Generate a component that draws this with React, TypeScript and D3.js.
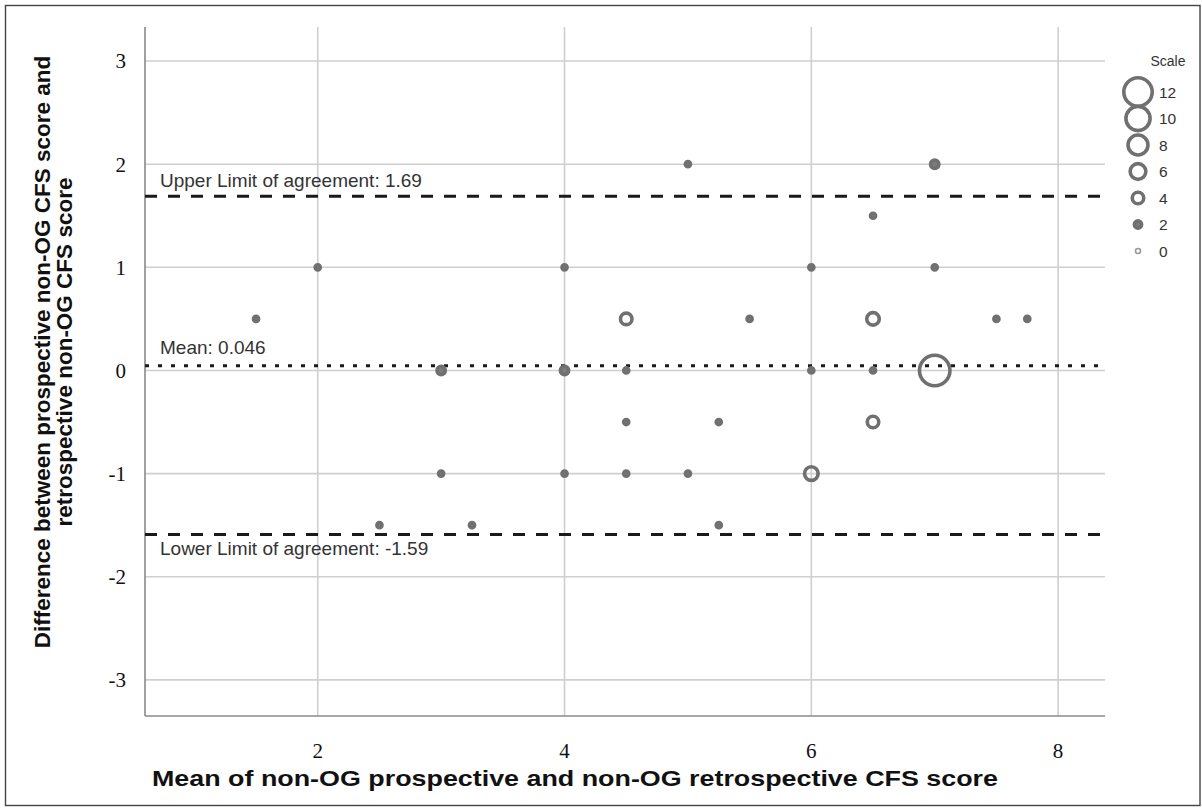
import React from "react";
import * as d3 from "d3";

const xTicks = [2, 4, 6, 8];
const yTicks = [-3, -2, -1, 0, 1, 2, 3];

// Points: mean (x), difference (y), count (bubble size)
const pointX = [1.5, 2, 2.5, 3, 3, 3.25, 4, 4, 4, 4.5, 4.5, 4.5, 4.5, 5, 5, 5.25, 5.25, 5.5, 6, 6, 6, 6.5, 6.5, 6.5, 6.5, 7, 7, 7, 7.5, 7.75];
const pointY = [0.5, 1, -1.5, 0, -1, -1.5, 1, 0, -1, 0.5, 0, -0.5, -1, 2, -1, -0.5, -1.5, 0.5, 1, 0, -1, 1.5, 0.5, 0, -0.5, 2, 1, 0, 0.5, 0.5];
const pointN = [1, 1, 1, 2.5, 1, 1, 1, 2.5, 1, 4, 1, 1, 1, 1, 1, 1, 1, 1, 1, 1, 5, 1, 4.5, 1, 4, 2.5, 1, 13, 1, 1];

const refValues = [1.69, 0.046, -1.59];
const refLabels = ["Upper Limit of agreement: 1.69", "Mean: 0.046", "Lower Limit of agreement: -1.59"];
const refDash = ["12,11", "4,9", "12,11"];

const legendCounts = [12, 10, 8, 6, 4, 2, 0];

const W = 1202;
const H = 811;
const L = 145, R = 1105, T = 27, B = 716;

export default function App() {
  const x = d3.scaleLinear().domain([0.6, 8.38]).range([L, R]);
  const y = d3.scaleLinear().domain([-3.35, 3.33]).range([B, T]);
  const rScale = d3.scaleLinear().domain([0, 12]).range([3.3, 16]);
  const SW = 3.6;
  const ptColor = "#707070";
  const legendY = d3.scaleLinear().domain([0, legendCounts.length - 1]).range([92, 251]);
  const sans = "'Liberation Sans', Arial, sans-serif";

  const pts = pointX.map((px, i) => ({ x: px, y: pointY[i], n: pointN[i] }));
  const labelOffset = [-9, -12, 21];

  return (
    <svg width={W} height={H} style={{ position: "absolute", left: 0, top: 0, background: "#fff" }}>
      <rect x={0} y={0} width={W} height={H} fill="#fff" />
      <rect x={5.5} y={5.5} width={1194.5} height={800} fill="none" stroke="#444" strokeWidth={1.4} />

      {/* grid */}
      {xTicks.map((t) => (
        <line key={"gx" + t} x1={x(t)} x2={x(t)} y1={T} y2={B} stroke="#cfcfcf" strokeWidth={1.6} />
      ))}
      {yTicks.map((t) => (
        <line key={"gy" + t} x1={L} x2={R} y1={y(t)} y2={y(t)} stroke="#cfcfcf" strokeWidth={1.6} />
      ))}

      {/* axes */}
      <line x1={L} x2={L} y1={T} y2={B} stroke="#8a8a8a" strokeWidth={1.6} />
      <line x1={L} x2={R} y1={B} y2={B} stroke="#8a8a8a" strokeWidth={1.6} />

      {/* tick labels */}
      {yTicks.map((t) => (
        <text key={"ty" + t} x={126} y={y(t)} dy="0.35em" textAnchor="end" fontFamily="'Liberation Serif', serif" fontSize={21} fill="#111">
          {t}
        </text>
      ))}
      {xTicks.map((t) => (
        <text key={"tx" + t} x={x(t)} y={758} textAnchor="middle" fontFamily="'Liberation Serif', serif" fontSize={21} fill="#111">
          {t}
        </text>
      ))}

      {/* reference lines */}
      {refValues.map((v, i) => (
        <g key={"ref" + i}>
          <line x1={L} x2={R} y1={y(v)} y2={y(v)} stroke="#1a1a1a" strokeWidth={3} strokeDasharray={refDash[i]} />
          <text x={160} y={y(v) + labelOffset[i]} fontFamily={sans} fontSize={19} fill="#333">
            {refLabels[i]}
          </text>
        </g>
      ))}

      {/* points */}
      {pts.map((p, i) => (
        <circle key={"p" + i} cx={x(p.x)} cy={y(p.y)} r={Math.max(rScale(p.n) - SW / 2, 0.8)} fill={p.n <= 3 ? "#7c7c7c" : "none"} stroke={ptColor} strokeWidth={SW} />
      ))}

      {/* axis titles */}
      <text x={575} y={786} textAnchor="middle" textLength={846} lengthAdjust="spacingAndGlyphs" fontFamily={sans} fontWeight="bold" fontSize={22} fill="#111">
        Mean of non-OG prospective and non-OG retrospective CFS score
      </text>
      <g transform="translate(0,352) rotate(-90)">
        <text x={0} y={50} textAnchor="middle" fontFamily={sans} fontWeight="bold" fontSize={22.5} fill="#111">
          Difference between prospective non-OG CFS score and
        </text>
        <text x={0} y={72} textAnchor="middle" fontFamily={sans} fontWeight="bold" fontSize={22.5} fill="#111">
          retrospective non-OG CFS score
        </text>
      </g>

      {/* legend */}
      <text x={1168} y={66} textAnchor="middle" fontFamily={sans} fontSize={14} fill="#333">
        Scale
      </text>
      {legendCounts.map((c, i) => (
        <g key={"lg" + c}>
          <circle cx={1138} cy={legendY(i)} r={Math.max(rScale(c) - (c === 0 ? 0.8 : SW / 2), 0.8)} fill={c === 2 ? "#7c7c7c" : "none"} stroke={c === 0 ? "#999" : ptColor} strokeWidth={c === 0 ? 1.6 : SW} />
          <text x={1159} y={legendY(i)} dy="0.36em" fontFamily={sans} fontSize={15.5} fill="#333">
            {c}
          </text>
        </g>
      ))}
    </svg>
  );
}
